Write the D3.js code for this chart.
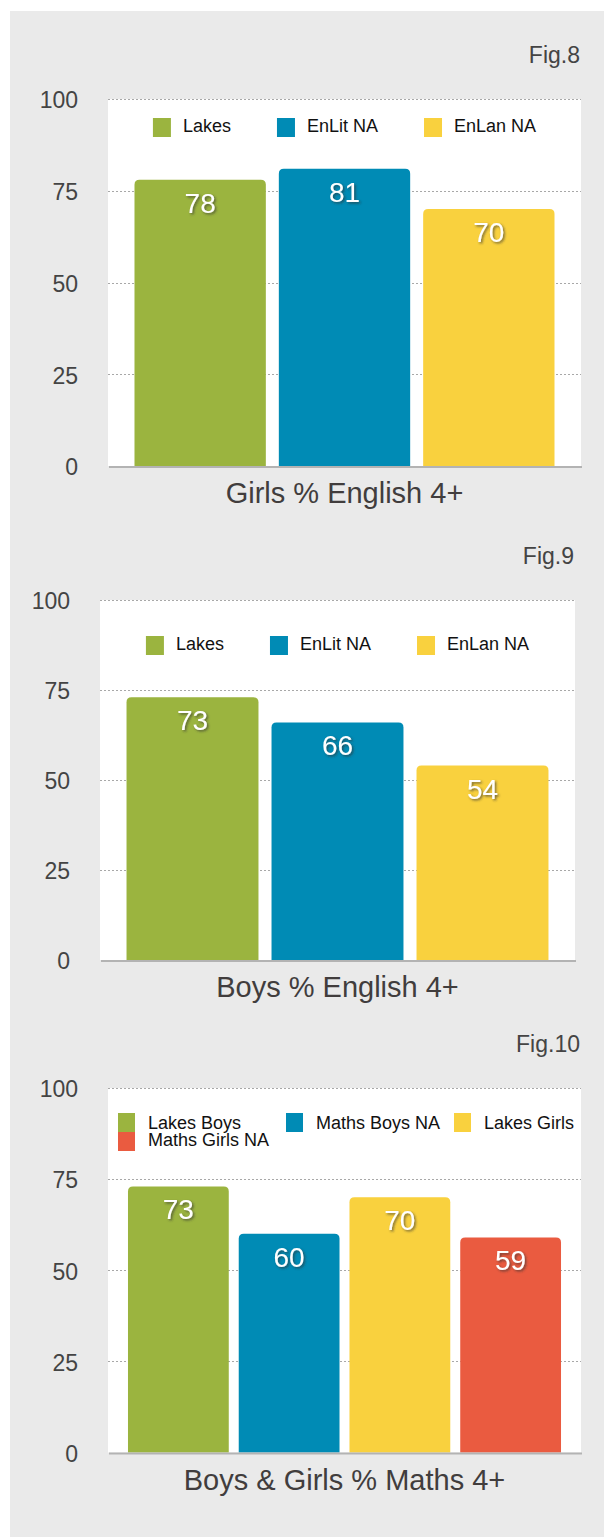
<!DOCTYPE html>
<html>
<head>
<meta charset="utf-8">
<script src="https://cdn.jsdelivr.net/npm/d3@7"></script>
<style>
  html, body { margin: 0; padding: 0; background: #ffffff; }
  svg text { font-family: "Liberation Sans", Arial, sans-serif; }
</style>
</head>
<body>
<svg id="chart" width="604" height="1537"></svg>
<script>
// ---------- DATA ----------
const yTicks = [0, 25, 50, 75, 100];

const fig8Title = "Girls % English 4+";
const fig8Label = "Fig.8";
const fig8Categories = ["Lakes", "EnLit NA", "EnLan NA"];
const fig8Values = [78, 81, 70];

const fig9Title = "Boys % English 4+";
const fig9Label = "Fig.9";
const fig9Categories = ["Lakes", "EnLit NA", "EnLan NA"];
const fig9Values = [73, 66, 54];

const fig10Title = "Boys & Girls % Maths 4+";
const fig10Label = "Fig.10";
const fig10Categories = ["Lakes Boys", "Maths Boys NA", "Lakes Girls", "Maths Girls NA"];
const fig10Values = [73, 60, 70, 59];

const seriesColors = ["#9bb43f", "#008bb5", "#f9d13e", "#ea5b40"];

// ---------- LAYOUT ----------
const charts = [
  { title: fig8Title, label: fig8Label, cats: fig8Categories, vals: fig8Values,
    top: 99, zero: 466, left: 108, right: 581, inset: 20, legendTop: 118, legendMode: "row" },
  { title: fig9Title, label: fig9Label, cats: fig9Categories, vals: fig9Values,
    top: 600, zero: 960, left: 100, right: 575, inset: 20, legendTop: 636, legendMode: "row" },
  { title: fig10Title, label: fig10Label, cats: fig10Categories, vals: fig10Values,
    top: 1088, zero: 1452.5, left: 108, right: 581, inset: 15, legendTop: 1113, legendMode: "grid" }
];

const svg = d3.select("#chart");

// shadow filter for value labels
const defs = svg.append("defs");
const f = defs.append("filter").attr("id", "tshadow")
  .attr("x", "-20%").attr("y", "-20%").attr("width", "150%").attr("height", "150%");
f.append("feDropShadow").attr("dx", 1.5).attr("dy", 1.5).attr("stdDeviation", 1)
  .attr("flood-color", "#333").attr("flood-opacity", 0.65);

// background panel
svg.append("rect").attr("x", 10).attr("y", 11).attr("width", 594).attr("height", 1526)
  .attr("fill", "#eaeaea");

function barPath(x, y, w, h, r) {
  r = Math.min(r, h, w / 2);
  return `M${x},${y + h}V${y + r}Q${x},${y} ${x + r},${y}H${x + w - r}Q${x + w},${y} ${x + w},${y + r}V${y + h}Z`;
}

charts.forEach(c => {
  const g = svg.append("g");
  const y = d3.scaleLinear().domain([0, 100]).range([c.zero, c.top]);
  const x = d3.scaleBand().domain(c.cats)
    .range([c.left + c.inset, c.right - c.inset])
    .paddingInner(0.09).paddingOuter(0.045);
  const color = d3.scaleOrdinal().domain(c.cats).range(seriesColors);

  // white plot area
  g.append("rect").attr("x", c.left).attr("y", c.top)
    .attr("width", c.right - c.left).attr("height", c.zero - c.top).attr("fill", "#ffffff");

  // gridlines
  g.selectAll("line.grid").data(yTicks.filter(t => t > 0)).join("line")
    .attr("class", "grid")
    .attr("x1", c.left).attr("x2", c.right)
    .attr("y1", d => Math.round(y(d)) + 0.5).attr("y2", d => Math.round(y(d)) + 0.5)
    .attr("stroke", "#a8a8a8").attr("stroke-width", 1).attr("stroke-dasharray", "2,2");

  // y tick labels via axis
  const axis = d3.axisLeft(y).tickValues(yTicks).tickSize(0).tickPadding(0);
  const ag = g.append("g").attr("transform", `translate(${c.left - 30},0)`).call(axis);
  ag.select(".domain").remove();
  ag.selectAll("text").attr("font-size", 23).attr("fill", "#444").attr("dy", "0.38em");

  // bars
  g.selectAll("path.bar").data(c.cats).join("path")
    .attr("class", "bar")
    .attr("d", (d, i) => barPath(x(d), y(c.vals[i]), x.bandwidth(), y(0) - y(c.vals[i]), 5))
    .attr("fill", d => color(d));

  // value labels
  g.selectAll("text.val").data(c.cats).join("text")
    .attr("class", "val")
    .attr("x", d => x(d) + x.bandwidth() / 2)
    .attr("y", (d, i) => y(c.vals[i]) + 33)
    .attr("text-anchor", "middle").attr("font-size", 28).attr("fill", "#ffffff")
    .attr("filter", "url(#tshadow)")
    .text((d, i) => c.vals[i]);

  // baseline
  g.append("line").attr("x1", c.left + 1).attr("x2", c.right + 1)
    .attr("y1", c.zero + 1).attr("y2", c.zero + 1)
    .attr("stroke", "#b3b3b3").attr("stroke-width", 2);

  // title
  g.append("text").attr("x", (c.left + c.right) / 2).attr("y", c.zero + 37)
    .attr("text-anchor", "middle").attr("font-size", 29).attr("fill", "#413d3d")
    .text(c.title);

  // fig label
  g.append("text").attr("x", c.right - 1).attr("y", c.top - 36)
    .attr("text-anchor", "end").attr("font-size", 23).attr("fill", "#444")
    .text(c.label);

  // legend
  const lg = g.append("g");
  const sw = 18, sh = 19, gapT = 12, gapItem = 46;
  if (c.legendMode === "row") {
    const items = lg.selectAll("g.item").data(c.cats).join("g").attr("class", "item");
    items.append("rect").attr("width", sw).attr("height", sh).attr("fill", d => color(d));
    items.append("text").attr("x", sw + gapT).attr("y", 14)
      .attr("font-size", 18).attr("fill", "#111").text(d => d);
    let cx = 0;
    const offs = [];
    items.each(function () {
      offs.push(cx);
      const tw = d3.select(this).select("text").node().getComputedTextLength();
      cx += sw + gapT + tw + gapItem;
    });
    const total = cx - gapItem;
    const start = (c.left + c.right) / 2 - total / 2;
    items.attr("transform", (d, i) => `translate(${start + offs[i]},${c.legendTop})`);
  } else {
    const colW = 168, cols = 3;
    const items = lg.selectAll("g.item").data(c.cats).join("g").attr("class", "item")
      .attr("transform", (d, i) => `translate(${c.left + 10 + (i % cols) * colW},${c.legendTop + Math.floor(i / cols) * sh})`);
    items.append("rect").attr("width", sw - 1).attr("height", sh).attr("fill", d => color(d));
    items.append("text").attr("x", 30).attr("y", (d, i) => i >= cols ? 14 : 16)
      .attr("font-size", 18).attr("fill", "#111").text(d => d);
  }
});
</script>
</body>
</html>
